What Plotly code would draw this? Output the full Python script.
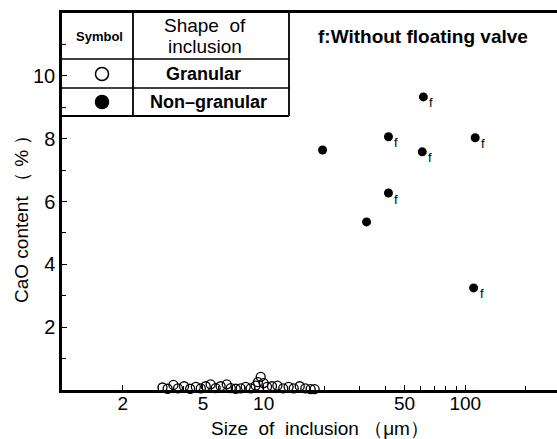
import plotly.graph_objects as go
import math

# Non-granular inclusions (filled circles)
ng_size = [62, 41.6, 112, 19.6, 61.2, 41.6, 32.4, 110]
ng_cao = [9.33, 8.06, 8.03, 7.64, 7.58, 6.27, 5.35, 3.25]
ng_flag = ["f", "f", "f", "", "f", "f", "", "f"]

# Granular inclusions (open circles)
gr_size = [3.15, 3.34, 3.57, 3.76, 4.03, 4.32, 4.61, 4.88, 5.16, 5.46, 5.78, 6.12,
           6.56, 6.87, 7.27, 7.69, 8.15, 8.62, 9.13, 9.37, 9.67, 10.0, 10.4, 11.0,
           11.7, 12.5, 13.3, 14.1, 15.1, 16.1, 17.1, 17.9]
gr_cao = [0.08, 0.04, 0.16, 0.05, 0.12, 0.04, 0.10, 0.05, 0.12, 0.18, 0.06, 0.12,
          0.18, 0.06, 0.04, 0.05, 0.10, 0.05, 0.14, 0.25, 0.42, 0.22, 0.10, 0.12,
          0.14, 0.05, 0.10, 0.05, 0.12, 0.05, 0.03, 0.03]

x_ticks = [2, 5, 10, 50, 100]
x_minor = [3, 4, 6, 7, 8, 9, 20, 30, 40, 60, 70, 80, 90, 200]
y_ticks = [2, 4, 6, 8, 10]
y_minor = [1, 3, 5, 7, 9, 11]

FONT = "Liberation Sans, Arial, sans-serif"

fig = go.Figure()
fig.add_trace(go.Scatter(
    x=gr_size, y=gr_cao, mode="markers",
    marker=dict(symbol="circle-open", size=9, color="black", line=dict(width=1.3)),
    cliponaxis=False, showlegend=False, hoverinfo="skip"))
fig.add_trace(go.Scatter(
    x=ng_size, y=ng_cao, mode="markers",
    marker=dict(symbol="circle", size=9, color="black"),
    cliponaxis=False, showlegend=False, hoverinfo="skip"))

annotations = []
for xs, ys, fl in zip(ng_size, ng_cao, ng_flag):
    if fl:
        annotations.append(dict(x=math.log10(xs), y=ys, text=fl, showarrow=False,
                                xanchor="left", yanchor="middle", xshift=4, yshift=-6,
                                font=dict(family=FONT, size=13, color="black")))

def px_x(px):
    return (px - 62) / 495

def px_y(py):
    return (390 - py) / 377

def txt(x, y, t, size, bold=False, angle=0):
    if bold:
        t = "<b>" + t + "</b>"
    annotations.append(dict(x=px_x(x), y=px_y(y), xref="paper", yref="paper", text=t,
                            showarrow=False, xanchor="center", yanchor="middle",
                            textangle=angle,
                            font=dict(family=FONT, size=size, color="black")))

txt(99, 36, "Symbol", 13, True)
txt(205, 25, "Shape  of", 19)
txt(205, 46, "inclusion", 19)
txt(203, 74, "Granular", 18, True)
txt(208, 102, "Non–granular", 18, True)
txt(423, 36, "f:Without floating valve", 19, True)
txt(320, 428, "Size  of  inclusion （μm）", 19)
txt(22, 215, "CaO content （ % ）", 19, angle=-90)

shapes = []
def line(x0, y0, x1, y1, w=1.8):
    shapes.append(dict(type="line", xref="paper", yref="paper",
                       x0=px_x(x0), y0=px_y(y0), x1=px_x(x1), y1=px_y(y1),
                       line=dict(color="black", width=w)))

line(133, 13, 133, 116)
line(289, 13, 289, 116)
line(62, 59, 289, 59, 1.5)
line(62, 88, 289, 88, 1.5)
line(62, 116, 289, 116)

for cy, filled in [(74, False), (102, True)]:
    shapes.append(dict(type="circle", xref="paper", yref="paper",
                       xsizemode="pixel", ysizemode="pixel",
                       xanchor=px_x(102), yanchor=px_y(cy),
                       x0=-6.5, x1=6.5, y0=-6.5, y1=6.5,
                       fillcolor="black" if filled else "white",
                       line=dict(color="black", width=1.5)))

fig.update_layout(
    width=557, height=439,
    margin=dict(l=62, r=0, t=13, b=49),
    paper_bgcolor="white", plot_bgcolor="white",
    font=dict(family=FONT, size=19, color="black"),
    annotations=annotations, shapes=shapes,
    xaxis=dict(type="log", range=[0, 2.455], showgrid=False, zeroline=False,
               automargin=False,
               showline=True, linecolor="black", linewidth=2.5, mirror=True,
               ticks="inside", ticklen=5, tickwidth=1.3, tickcolor="black",
               tickmode="array", tickvals=x_ticks, ticktext=[str(v) for v in x_ticks],
               minor=dict(tickmode="array", tickvals=x_minor, ticks="inside",
                          ticklen=4, tickwidth=1.2, tickcolor="black"),
               tickfont=dict(size=19), ticklabelstandoff=-6),
    yaxis=dict(range=[0, 12], showgrid=False, zeroline=False,
               automargin=False,
               showline=True, linecolor="black", linewidth=2.5, mirror=False,
               ticks="inside", ticklen=5, tickwidth=1.3, tickcolor="black",
               tickmode="array", tickvals=y_ticks, ticktext=[str(v) for v in y_ticks],
               minor=dict(tickmode="array", tickvals=y_minor, ticks="inside",
                          ticklen=4, tickwidth=1.2, tickcolor="black"),
               tickfont=dict(size=20), ticklabelstandoff=0),
)

fig.write_html("out.html", config={"displayModeBar": False},
               post_script="document.body.style.margin='0';document.body.style.overflow='hidden';")
